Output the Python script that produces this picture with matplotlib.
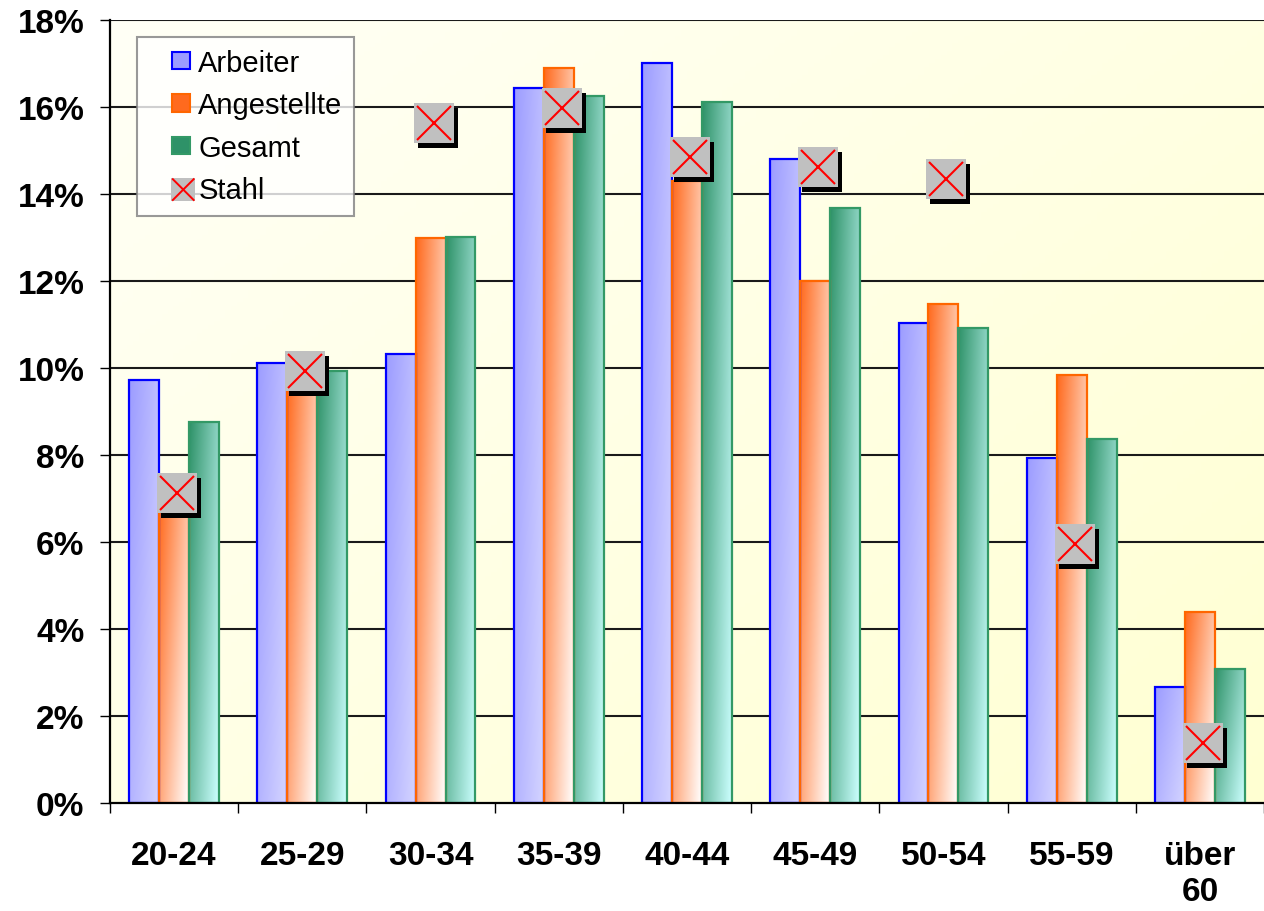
import numpy as np
import matplotlib
matplotlib.use("Agg")
import matplotlib.pyplot as plt
from matplotlib.patches import Patch, Rectangle
from matplotlib.lines import Line2D
from matplotlib.legend_handler import HandlerBase
from matplotlib import transforms
from matplotlib.colors import to_rgb

plt.rcParams['font.family'] = ['Liberation Sans', 'DejaVu Sans']

categories = ["20-24", "25-29", "30-34", "35-39", "40-44", "45-49", "50-54", "55-59", "über\n60"]
arbeiter = [9.72, 10.12, 10.33, 16.44, 17.01, 14.80, 11.04, 7.94, 2.66]
angestellte = [6.9, 9.7, 13.00, 16.90, 14.3, 12.00, 11.46, 9.84, 4.39]
gesamt = [8.75, 9.92, 13.01, 16.25, 16.12, 13.68, 10.92, 8.37, 3.09]
stahl = [7.13, 9.94, 15.63, 15.97, 14.85, 14.62, 14.35, 5.96, 1.37]
yticks = [0, 2, 4, 6, 8, 10, 12, 14, 16, 18]

series = [
    ("Arbeiter", arbeiter, "#9C9CFF", "#D4D4FF", "#0000FF"),
    ("Angestellte", angestellte, "#FF6A1E", "#FFFFFF", "#FF6600"),
    ("Gesamt", gesamt, "#2E9268", "#CCFFFF", "#339966"),
]

W, H = 1264, 912
fig = plt.figure(figsize=(W / 100, H / 100), dpi=100)
fig.patch.set_facecolor("white")
ax = fig.add_axes([110 / W, 1 - 804 / H, 1154 / W, 783 / H])

n = len(categories)
ax.set_xlim(0, n)
ax.set_ylim(0, 18)

# background gradient (white top-left -> light yellow bottom-right)
gx, gy = np.meshgrid(np.linspace(0, 1, 200), np.linspace(0, 1, 200))
t = np.clip(0.55 * gx + 0.45 * gy, 0, 1)[..., None]
c0 = np.array(to_rgb("#FFFFF6"))
c1 = np.array(to_rgb("#FFFFD2"))
bg = c0 * (1 - t) + c1 * t
ax.imshow(bg, extent=[0, 1, 0, 1], transform=ax.transAxes, aspect="auto", zorder=0, origin="upper")

# gridlines
for yv in yticks[1:]:
    ax.axhline(yv, color="#1a1a1a", lw=1.5, zorder=1)

bw = 0.7 / 3
x = np.arange(n)
for k, (name, vals, dark, light, edge) in enumerate(series):
    xs = x + 0.5 - 0.35 + bw * k
    bars = ax.bar(xs, vals, width=bw, align="edge", facecolor="none",
                  edgecolor=edge, linewidth=1.6, zorder=3)
    d = np.array(to_rgb(dark)); l = np.array(to_rgb(light))
    u, v = np.meshgrid(np.linspace(0, 1, 40), np.linspace(0, 1, 100))
    tt = np.clip(0.6 * u + 0.4 * v, 0, 1)[..., None]
    img = d * (1 - tt) + l * tt
    for b in bars:
        bx, by = b.get_x(), b.get_y()
        bh, bwid = b.get_height(), b.get_width()
        im = ax.imshow(img, extent=[bx, bx + bwid, by, by + bh], aspect="auto",
                       origin="upper", zorder=2, interpolation="bilinear")
        im.set_clip_path(b)

# Stahl markers: shadow + gray square + red x
cx = x + 0.5
shadow_tr = transforms.offset_copy(ax.transData, fig=fig, x=7, y=-5, units="dots")
sq_tr = transforms.offset_copy(ax.transData, fig=fig, x=3, y=0, units="dots")
msz = 40 * 0.72
ax.plot(cx, stahl, linestyle="none", marker="s", markersize=msz, markerfacecolor="black",
        markeredgecolor="black", markeredgewidth=0, transform=shadow_tr, zorder=4)
ax.plot(cx, stahl, linestyle="none", marker="s", markersize=msz, markerfacecolor="#C0C0C0",
        markeredgecolor="#C0C0C0", markeredgewidth=0, transform=sq_tr, zorder=5)
ax.plot(cx, stahl, linestyle="none", marker="x", markersize=34 * 0.72, markeredgecolor="#FF0000",
        markeredgewidth=1.5, transform=sq_tr, zorder=6)

# axes styling
for s in ["top", "right"]:
    ax.spines[s].set_visible(False)
for s in ["left", "bottom"]:
    ax.spines[s].set_color("black")
    ax.spines[s].set_linewidth(1.6)
    ax.spines[s].set_zorder(7)

ax.set_yticks(yticks)
ax.set_yticklabels([f"{v}%" for v in yticks], fontsize=24, fontweight="bold")
ax.tick_params(axis="y", direction="out", length=7.5, width=1, pad=11)

ax.set_xticks(np.arange(n + 1))
ax.set_xticklabels([])
ax.tick_params(axis="x", which="major", direction="out", length=7.5, width=1)
ax.set_xticks(cx, minor=True)
ax.set_xticklabels(categories, minor=True, fontsize=24, fontweight="bold", linespacing=1.2)
ax.tick_params(axis="x", which="minor", length=0, pad=27)


# legend with squares aligned right in handle box
class RightSquare(HandlerBase):
    def create_artists(self, legend, orig_handle, xdescent, ydescent, width, height, fontsize, trans):
        s = 12.5  # points
        x0 = width - xdescent - s
        y0 = -ydescent + height / 2 - s / 2
        r = Rectangle((x0, y0), s, s, facecolor=orig_handle.get_facecolor(),
                      edgecolor=orig_handle.get_edgecolor(), linewidth=1.5, transform=trans)
        return [r]


class StahlHandler(HandlerBase):
    def create_artists(self, legend, orig_handle, xdescent, ydescent, width, height, fontsize, trans):
        s = 17
        x0 = width - xdescent - s + 4
        y0 = -ydescent + height / 2 - s / 2 - 1
        r = Rectangle((x0, y0), s, s, facecolor="#C0C0C0", edgecolor="none", transform=trans)
        l1 = Line2D([x0 + 1, x0 + s - 1], [y0 + 1, y0 + s - 1], color="#FF0000", lw=1.4, transform=trans)
        l2 = Line2D([x0 + 1, x0 + s - 1], [y0 + s - 1, y0 + 1], color="#FF0000", lw=1.4, transform=trans)
        return [r, l1, l2]


handles = [Patch(facecolor=s[2], edgecolor=s[4]) for s in series]
stahl_handle = Line2D([], [])
handles.append(stahl_handle)
labels = [s[0] for s in series] + ["Stahl"]
hmap = {h: RightSquare() for h in handles[:3]}
hmap[stahl_handle] = StahlHandler()
leg = ax.legend(handles, labels, loc="upper left", bbox_to_anchor=(27 / 1154, 1 - 17 / 783),
                borderaxespad=0, fontsize=21, frameon=True, fancybox=False,
                handlelength=1.4, handleheight=0.7, handletextpad=0.3,
                labelspacing=0.5, borderpad=0.4, handler_map=hmap)
leg.get_frame().set_edgecolor("#808080")
leg.get_frame().set_linewidth(1.5)
leg.set_zorder(10)

fig.savefig("out.png", dpi=100)
